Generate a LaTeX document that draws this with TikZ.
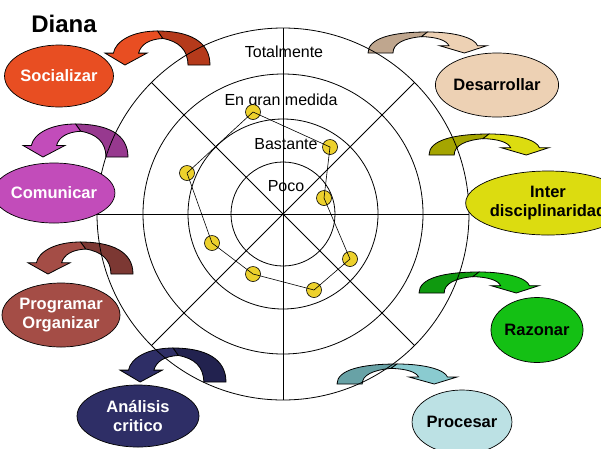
\documentclass[tikz,border=0pt]{standalone}
\usepackage{fontspec}
\setmainfont{Liberation Sans}
\usepackage{tikz}
\usetikzlibrary{shapes.geometric}

\definecolor{socdark}{HTML}{B53A1B}
\definecolor{soclight}{HTML}{E84E22}
\definecolor{comdark}{HTML}{97398F}
\definecolor{comlight}{HTML}{C24CBA}
\definecolor{progdark}{HTML}{7C3833}
\definecolor{proglight}{HTML}{A44D46}
\definecolor{analdark}{HTML}{22224F}
\definecolor{anallight}{HTML}{2E2E66}
\definecolor{desdark}{HTML}{BFA68E}
\definecolor{deslight}{HTML}{EDD1B4}
\definecolor{intdark}{HTML}{A5A500}
\definecolor{intlight}{HTML}{DCDC10}
\definecolor{razdark}{HTML}{0F990F}
\definecolor{razlight}{HTML}{14C014}
\definecolor{procdark}{HTML}{68A2A6}
\definecolor{proclight}{HTML}{8ACBD0}
\definecolor{procfill}{HTML}{BCE1E4}
\definecolor{dotfill}{HTML}{EDD12C}

% curved arrow: top-left corner, width (negative = pointing left), height, back colour, front colour
\newcommand{\bendarrow}[6]{%
  \begin{scope}[shift={(#1,#2)},xscale=#3,yscale=#4]
    \draw[fill=#5] (0,1) .. controls (0,0.3) and (0.2,0) .. (0.5,0)
      -- (0.45,0.22) .. controls (0.3,0.3) and (0.21,0.55) .. (0.21,1) -- cycle;
    \draw[fill=#6] (0.5,0) .. controls (0.74,0) and (0.9,0.3) .. (0.92,0.65)
      -- (1,0.65) -- (0.81,1) -- (0.6,0.65) -- (0.68,0.65)
      .. controls (0.66,0.4) and (0.58,0.24) .. (0.45,0.22) -- cycle;
  \end{scope}}

\begin{document}
\begin{tikzpicture}[x=1pt,y=-1pt,line width=0.8pt,
    lvl/.style={font=\fontsize{16}{19}\selectfont,anchor=base},
    skill/.style={ellipse,draw=black,line width=0.7pt,inner sep=0pt,align=center,
      font=\fontsize{16.5}{18.5}\selectfont\bfseries},
    gdot/.style={circle,draw=black,fill=dotfill,minimum size=15pt,inner sep=0pt,line width=0.6pt}]
    \clip (0,0) rectangle (601,448);

    \node[font=\fontsize{24}{28}\selectfont\bfseries,anchor=base] (title) at (64,32) {Diana};

    % arrows
    \bendarrow{210}{31}{-105}{34}{socdark}{soclight}
    \bendarrow{128}{124}{-105}{33}{comdark}{comlight}
    \bendarrow{133}{242}{-105}{32}{progdark}{proglight}
    \bendarrow{226}{348}{-106}{34}{analdark}{anallight}
    \bendarrow{368}{32}{119}{21}{desdark}{deslight}
    \bendarrow{429}{134}{120}{21}{intdark}{intlight}
    \bendarrow{419}{272}{120}{21}{razdark}{razlight}
    \bendarrow{337}{364}{120}{20}{procdark}{proclight}

    % target
    \coordinate (O) at (283,214);
    \foreach \r in {52,95,140,186}
      \draw (O) circle (\r pt);
    \foreach \a in {0,45,...,315}
      \draw (O) -- ++(\a:186);

    \node[lvl] (l4) at (284,57) {Totalmente};
    \node[lvl] (l3) at (281,105.5) {En gran medida};
    \node[lvl] (l2) at (286,149) {Bastante};
    \node[lvl] (l1) at (286,191.5) {Poco};

    % scores
    \node[gdot] (d1) at (253,112) {};
    \node[gdot] (d2) at (330,147) {};
    \node[gdot] (d3) at (324,198) {};
    \node[gdot] (d4) at (350,259) {};
    \node[gdot] (d5) at (314,290) {};
    \node[gdot] (d6) at (253,274) {};
    \node[gdot] (d7) at (212,243) {};
    \node[gdot] (d8) at (187,173) {};
    \draw[line width=0.6pt] (d1.center) -- (d2.center) -- (d3.center) -- (d4.center)
      -- (d5.center) -- (d6.center) -- (d7.center) -- (d8.center) -- cycle;

    % skills
    \node[skill,fill=soclight,text=white,minimum width=98pt,minimum height=62pt] (soc) at (59,76) {Socializar};
    \node[skill,fill=comlight,text=white,minimum width=88pt,minimum height=60pt] (com) at (54,193) {Comunicar};
    \node[skill,fill=proglight,text=white,minimum width=102pt,minimum height=64pt] (prog) at (61,315) {Programar\\Organizar};
    \node[skill,fill=anallight,text=white,minimum width=122pt,minimum height=62pt] (anal) at (138,416) {Análisis\\critico};
    \node[skill,fill=deslight,minimum width=87pt,minimum height=64pt] (des) at (497,85) {Desarrollar};
    \node[skill,fill=intlight,minimum width=126pt,minimum height=64pt] (int) at (548,203) {Inter\\disciplinaridad};
    \node[skill,fill=razlight,minimum width=92pt,minimum height=65pt] (raz) at (537,330) {Razonar};
    \node[skill,fill=procfill,minimum width=98pt,minimum height=64pt] (proc) at (462,422) {Procesar};
\end{tikzpicture}
\end{document}
